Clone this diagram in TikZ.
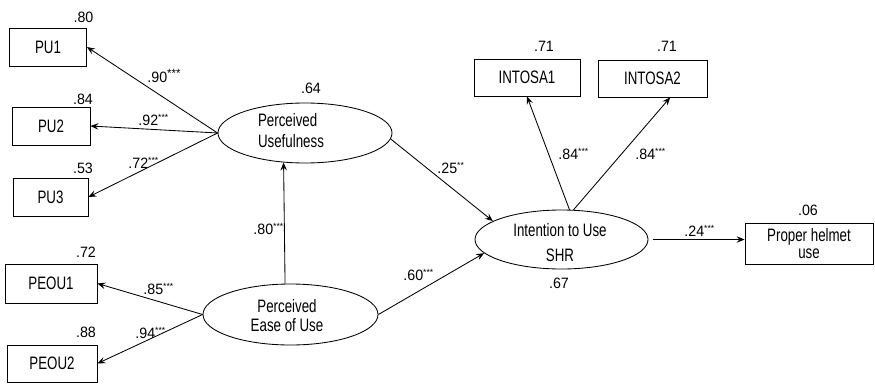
\documentclass[tikz,border=0pt]{standalone}
\usepackage{fontspec}
\setmainfont{Liberation Sans}[FakeStretch=0.74]
\newfontfamily\numfont{Liberation Sans}[FakeStretch=0.95]
\usetikzlibrary{shapes.geometric,arrows.meta}
\newcommand\sigstars[1]{\raisebox{5pt}{\fontsize{9}{9}\selectfont #1}}
\begin{document}
\begin{tikzpicture}[x=1pt,y=-1pt,
  line width=0.85pt,
  obs/.style={draw, rectangle, inner sep=0pt, font=\fontsize{18}{20}\selectfont},
  lat/.style={draw, ellipse, inner sep=0pt},
  lattext/.style={align=center, inner sep=0pt, font=\fontsize{18}{20}\selectfont},
  rsq/.style={inner sep=0pt, font=\numfont\fontsize{15}{15}\selectfont},
  coef/.style={inner sep=0pt, anchor=base west, font=\numfont\fontsize{15}{15}\selectfont},
  path/.style={-{Stealth[length=8pt,width=6.5pt,inset=3pt]}}]
\useasboundingbox (0,0) rectangle (875,383);

% observed indicators
\node[obs, minimum width=77, minimum height=38] (pu1) at (48,47) {PU1};
\node[obs, minimum width=78, minimum height=38] (pu2) at (51,126) {PU2};
\node[obs, minimum width=75, minimum height=38] (pu3) at (50.5,197) {PU3};
\node[obs, minimum width=92, minimum height=39] (peou1) at (51,283.5) {PEOU1};
\node[obs, minimum width=90, minimum height=37] (peou2) at (52,363.5) {PEOU2};
\node[obs, minimum width=106, minimum height=37] (intosa1) at (527,77.5) {INTOSA1};
\node[obs, minimum width=109, minimum height=37] (intosa2) at (652.5,78.5) {INTOSA2};
\node[obs, minimum width=128, minimum height=41, align=center,
      font=\fontsize{18}{17}\selectfont] (helmet) at (809,243.5) {Proper helmet\\use};

% latent constructs
\node[lat, minimum width=174, minimum height=60] (pu) at (305,133) {};
\node[lat, minimum width=175, minimum height=61] (peou) at (290.5,314.5) {};
\node[lat, minimum width=173, minimum height=59] (int) at (561.5,239.5) {};
\node[lattext, align=left, font=\fontsize{18}{21}\selectfont] (putext) at (291,131) {Perceived\\Usefulness};
\node[lattext, font=\fontsize{18}{19}\selectfont] (peoutext) at (287,316) {Perceived\\Ease of Use};
\node[lattext, font=\fontsize{18}{25}\selectfont] (inttext) at (560,243) {Intention to Use\\SHR};

% explained variances
\node[rsq] (r1) at (83.5,17) {.80};
\node[rsq] (r2) at (83,99) {.84};
\node[rsq] (r3) at (83,168) {.53};
\node[rsq] (r4) at (86,252) {.72};
\node[rsq] (r5) at (86,332) {.88};
\node[rsq] (r6) at (311,88) {.64};
\node[rsq] (r7) at (544,46) {.71};
\node[rsq] (r8) at (667,46) {.71};
\node[rsq] (r9) at (808,210) {.06};
\node[rsq] (r10) at (559,283) {.67};

% paths
\draw[path] (pu.west) -- (pu1.east);
\draw[path] (pu.west) -- (pu2.east);
\draw[path] (pu.west) -- (pu3.east);
\draw[path] (peou.west) -- (peou1.east);
\draw[path] (peou.west) -- (peou2.east);
\draw[path] (peou.100) -- (pu.234);
\draw[path] (pu.-4) -- (int.165);
\draw[path] (peou.east) -- (int.190);
\draw[path] (int.75) -- (intosa1.south);
\draw[path] (int.68) -- (intosa2.-47);
\draw[path, shorten <=5pt] (int.east) -- (int.east -| helmet.west);

% standardized coefficients
\node[coef] (c1) at (147,82) {.90\raisebox{5pt}{\fontsize{12}{12}\selectfont***}};
\node[coef] (c2) at (138,125) {.92\sigstars{***}};
\node[coef] (c3) at (128,168) {.72\sigstars{***}};
\node[coef] (c4) at (143,294) {.85\sigstars{***}};
\node[coef] (c5) at (135,338) {.94\sigstars{***}};
\node[coef] (c6) at (253,234) {.80\sigstars{***}};
\node[coef] (c7) at (437,173) {.25\sigstars{**}};
\node[coef] (c8) at (403,280) {.60\sigstars{***}};
\node[coef] (c9) at (558,159) {.84\sigstars{***}};
\node[coef] (c10) at (635,159) {.84\sigstars{***}};
\node[coef] (c11) at (684,236) {.24\sigstars{***}};
\end{tikzpicture}
\end{document}
